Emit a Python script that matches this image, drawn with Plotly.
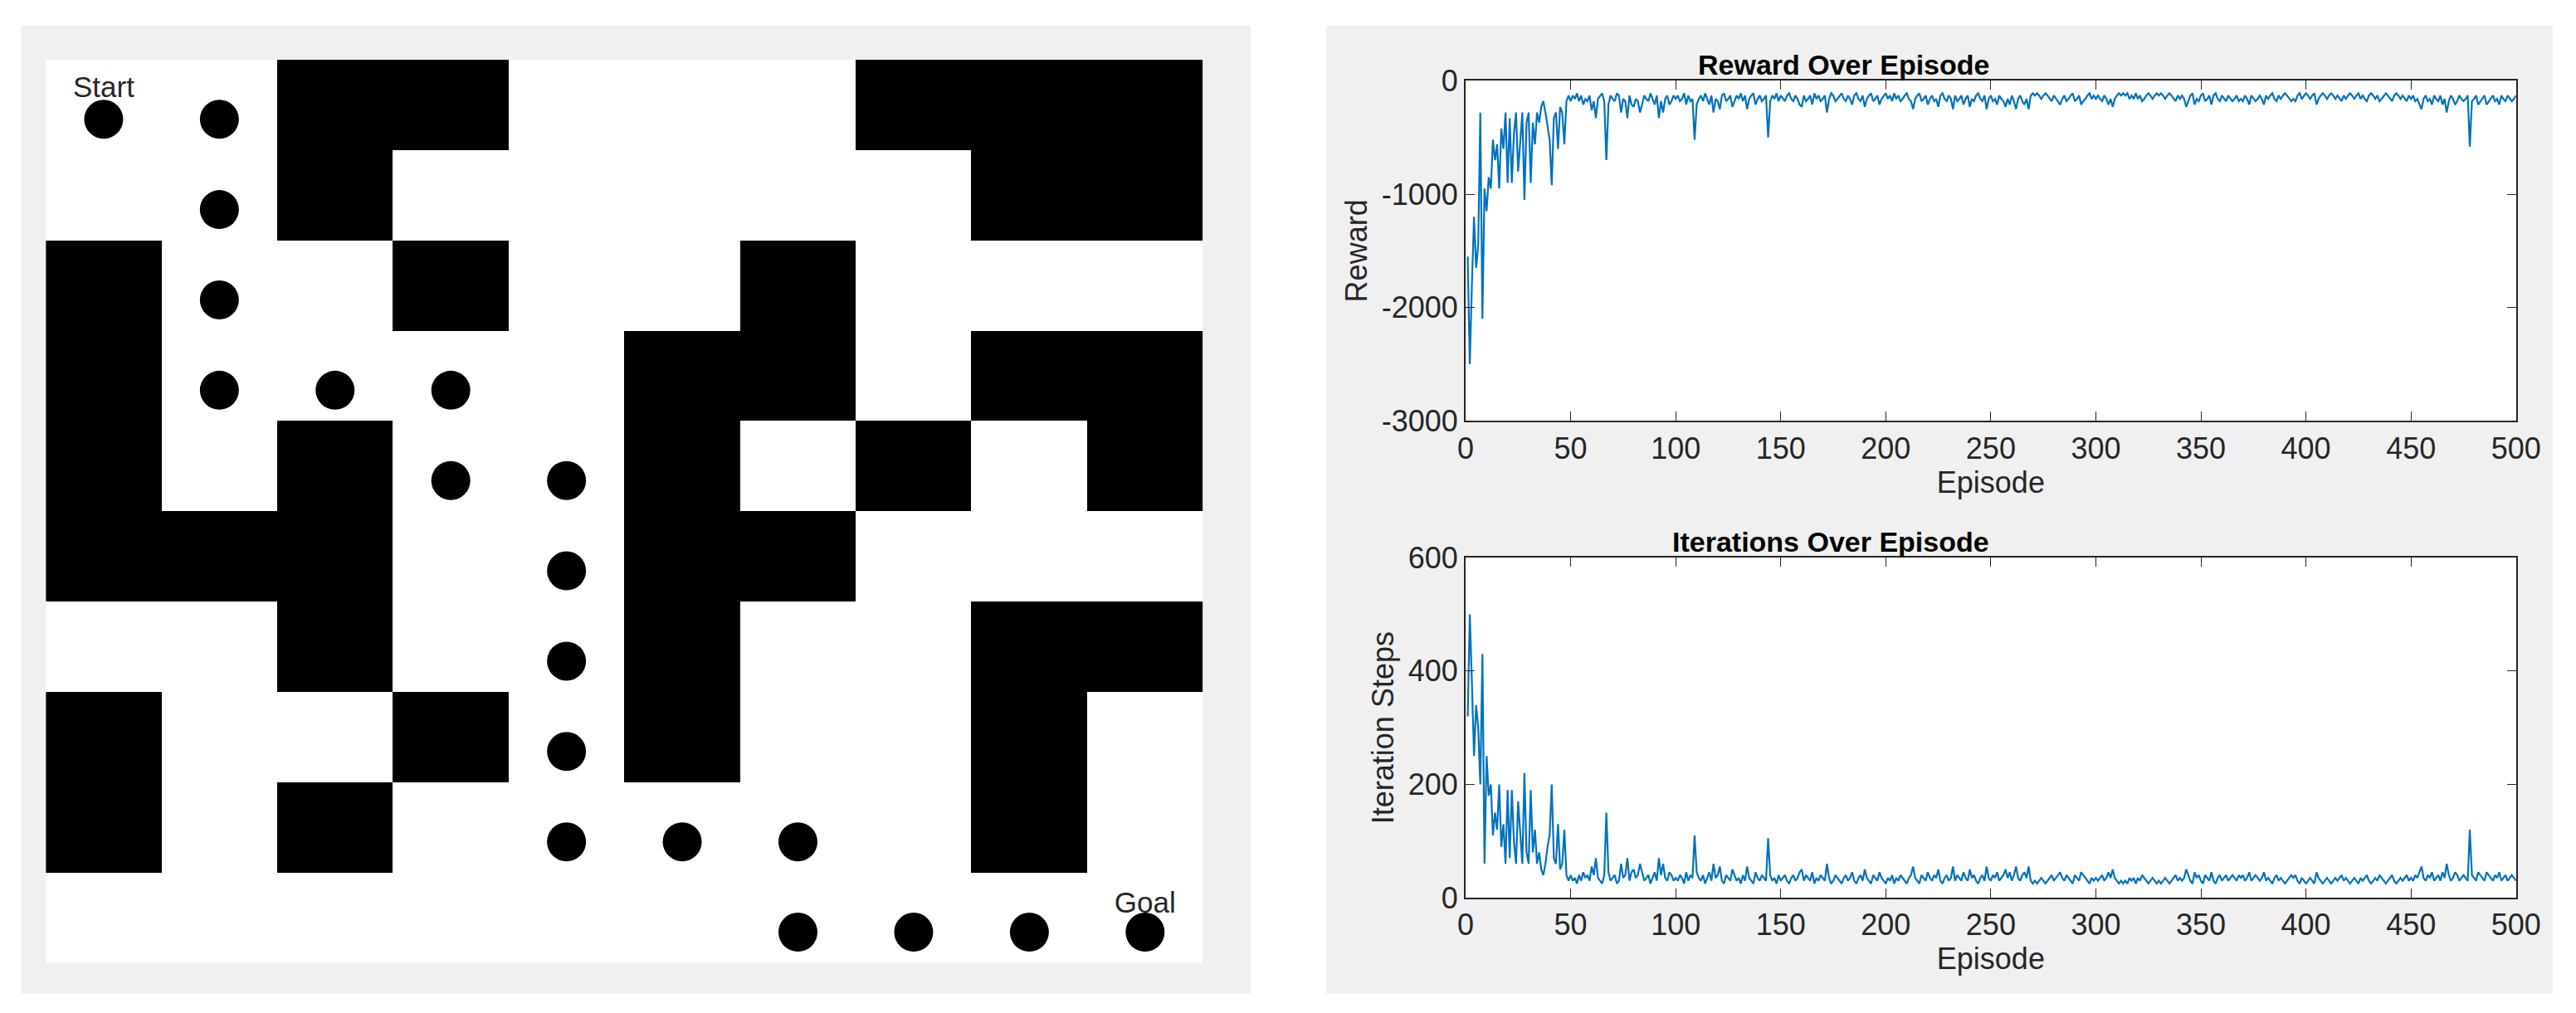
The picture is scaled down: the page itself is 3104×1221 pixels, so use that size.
import plotly.graph_objects as go

# ---------------- data ----------------
grid_rows = [  # 1 = wall (black), row 0 at top
    [0,0,1,1,0,0,0,1,1,1],
    [0,0,1,0,0,0,0,0,1,1],
    [1,0,0,1,0,0,1,0,0,0],
    [1,0,0,0,0,1,1,0,1,1],
    [1,0,1,0,0,1,0,1,0,1],
    [1,1,1,0,0,1,1,0,0,0],
    [0,0,1,0,0,1,0,0,1,1],
    [1,0,0,1,0,1,0,0,1,0],
    [1,0,1,0,0,0,0,0,1,0],
    [0,0,0,0,0,0,0,0,0,0],
]
path_cols = [0,1,1,1,1,2,3,3,4,4,4,4,4,5,6,6,7,8,9]
path_rows = [0,0,1,2,3,3,3,4,4,5,6,7,8,8,8,9,9,9,9]
labels = ["Start", "Goal"]

iterations = [
320,500,380,250,340,300,200,430,60,250,180,200,110,150,120,200,90,130,60,190,70,190,100,60,170,110,60,220,80,60,190,80,120,60,80,50,40,60,90,110,200,70,60,130,50,60,120,40,30,40,
30,35,25,40,30,45,35,40,30,55,40,70,35,30,25,40,150,45,30,35,40,25,30,60,35,40,70,30,45,50,35,40,60,45,30,35,40,25,35,45,30,70,40,60,35,30,45,40,30,35,
30,40,35,25,45,30,40,35,110,45,35,30,40,25,35,45,30,60,35,40,55,30,25,40,35,30,50,40,30,35,25,40,30,55,35,30,25,45,35,30,40,35,30,105,40,30,35,25,40,30,
35,40,30,25,35,40,30,35,45,50,30,40,35,30,45,25,35,30,40,35,30,60,35,25,30,40,35,30,25,35,40,30,35,45,30,25,35,40,30,50,35,30,25,40,35,30,45,35,30,25,
35,30,40,25,35,30,40,35,30,25,35,40,55,35,30,25,40,35,30,45,35,30,40,35,50,30,25,35,40,30,35,55,30,40,35,30,45,35,30,50,35,40,30,25,35,40,30,55,35,30,
40,35,45,30,35,40,50,35,45,30,40,55,35,30,40,45,35,55,30,25,30,25,30,35,30,25,30,35,40,30,35,40,45,35,30,40,35,30,25,40,35,30,45,40,35,30,25,35,30,35,
30,35,40,30,35,45,35,50,35,30,25,30,25,30,25,35,30,35,25,35,30,40,35,30,25,30,35,30,25,30,25,30,35,30,25,30,35,40,30,35,30,35,50,40,30,25,45,35,40,30,
25,40,35,30,45,30,25,35,40,30,35,40,30,35,40,35,30,40,35,40,30,35,45,30,35,40,35,30,35,45,30,35,30,25,35,40,30,35,30,25,30,35,40,35,40,30,25,35,30,25,
30,35,30,25,45,35,30,25,30,35,30,25,30,35,30,35,40,30,35,30,25,30,35,30,25,35,30,35,40,30,25,30,35,30,40,35,30,25,30,35,40,30,25,30,35,30,35,40,30,35,
30,40,35,45,55,35,30,40,35,45,30,35,40,30,45,35,60,40,30,35,45,40,30,35,40,35,30,120,40,35,30,45,40,35,30,45,40,35,30,40,35,45,30,35,40,30,35,40,35,30,
]

rewards = [
-1550,-2500,-1800,-1200,-1650,-1450,-280,-2100,-950,-1150,-850,-950,-520,-700,-560,-950,-420,-600,-280,-900,-330,-900,-470,-280,-800,-520,-280,-1050,-370,-280,-900,-370,-560,-280,-370,-230,-180,-280,-420,-520,-920,-330,-280,-600,-230,-280,-560,-180,-130,-180,
-130,-160,-110,-180,-130,-210,-160,-180,-130,-260,-180,-330,-160,-130,-110,-180,-700,-210,-130,-160,-180,-110,-130,-280,-160,-180,-330,-130,-210,-230,-160,-180,-280,-210,-130,-160,-180,-110,-160,-210,-130,-330,-180,-280,-160,-130,-210,-180,-130,-160,
-130,-180,-160,-110,-210,-130,-180,-160,-520,-210,-160,-130,-180,-110,-160,-210,-130,-280,-160,-180,-250,-130,-110,-180,-160,-130,-230,-180,-130,-160,-110,-180,-130,-250,-160,-130,-110,-210,-160,-130,-180,-160,-130,-500,-180,-130,-160,-110,-180,-130,
-160,-180,-130,-110,-160,-180,-130,-160,-210,-230,-130,-180,-160,-130,-210,-110,-160,-130,-180,-160,-130,-280,-160,-110,-130,-180,-160,-130,-110,-160,-180,-130,-160,-210,-130,-110,-160,-180,-130,-230,-160,-130,-110,-180,-160,-130,-210,-160,-130,-110,
-160,-130,-180,-110,-160,-130,-180,-160,-130,-110,-160,-180,-250,-160,-130,-110,-180,-160,-130,-210,-160,-130,-180,-160,-230,-130,-110,-160,-180,-130,-160,-250,-130,-180,-160,-130,-210,-160,-130,-230,-160,-180,-130,-110,-160,-180,-130,-250,-160,-130,
-180,-160,-210,-130,-160,-180,-230,-160,-210,-130,-180,-250,-160,-130,-180,-210,-160,-250,-130,-110,-130,-110,-130,-160,-130,-110,-130,-160,-180,-130,-160,-180,-210,-160,-130,-180,-160,-130,-110,-180,-160,-130,-210,-180,-160,-130,-110,-160,-130,-160,
-130,-160,-180,-130,-160,-210,-160,-230,-160,-130,-110,-130,-110,-130,-110,-160,-130,-160,-110,-160,-130,-180,-160,-130,-110,-130,-160,-130,-110,-130,-110,-130,-160,-130,-110,-130,-160,-180,-130,-160,-130,-160,-230,-180,-130,-110,-210,-160,-180,-130,
-110,-180,-160,-130,-210,-130,-110,-160,-180,-130,-160,-180,-130,-160,-180,-160,-130,-180,-160,-180,-130,-160,-210,-130,-160,-180,-160,-130,-160,-210,-130,-160,-130,-110,-160,-180,-130,-160,-130,-110,-130,-160,-180,-160,-180,-130,-110,-160,-130,-110,
-130,-160,-130,-110,-210,-160,-130,-110,-130,-160,-130,-110,-130,-160,-130,-160,-180,-130,-160,-130,-110,-130,-160,-130,-110,-160,-130,-160,-180,-130,-110,-130,-160,-130,-180,-160,-130,-110,-130,-160,-180,-130,-110,-130,-160,-130,-160,-180,-130,-160,
-130,-180,-160,-210,-250,-160,-130,-180,-160,-210,-130,-160,-180,-130,-210,-160,-280,-180,-130,-160,-210,-180,-130,-160,-180,-160,-130,-580,-180,-160,-130,-210,-180,-160,-130,-210,-180,-160,-130,-180,-160,-210,-130,-160,-180,-130,-160,-180,-160,-130,
]
episodes = list(range(1, len(iterations) + 1))
ep_ticks = [0, 50, 100, 150, 200, 250, 300, 350, 400, 450, 500]
reward_ticks = [-3000, -2000, -1000, 0]
iter_ticks = [0, 200, 400, 600]

# ---------------- figure ----------------
FONT = "Liberation Sans, Arial, sans-serif"
W, H = 3104, 1221
fig = go.Figure()

fig.add_trace(go.Heatmap(
    z=grid_rows, x=list(range(10)), y=list(range(10)),
    colorscale=[[0, "white"], [1, "black"]], showscale=False, zmin=0, zmax=1,
    xaxis="x", yaxis="y", hoverinfo="skip"))
fig.add_trace(go.Scatter(
    x=path_cols, y=[r + 0.16 for r in path_rows], mode="markers",
    marker=dict(color="black", size=47), xaxis="x", yaxis="y", showlegend=False))
fig.add_trace(go.Scatter(
    x=[path_cols[0], path_cols[-1]], y=[path_rows[0] - 0.17, path_rows[-1] - 0.14],
    mode="text", text=labels, textfont=dict(family=FONT, size=35, color="#262626"),
    xaxis="x", yaxis="y", showlegend=False))

line = dict(color="#0072BD", width=2.2)
fig.add_trace(go.Scatter(x=episodes, y=rewards, mode="lines", line=line,
                         xaxis="x2", yaxis="y2", showlegend=False))
fig.add_trace(go.Scatter(x=episodes, y=iterations, mode="lines", line=line,
                         xaxis="x3", yaxis="y3", showlegend=False))

tick = dict(family=FONT, size=36, color="#262626")
ax_common = dict(showgrid=False, zeroline=False, showline=True, mirror="ticks",
                 linecolor="#262626", linewidth=2, ticks="inside", ticklen=11,
                 tickcolor="#262626", tickfont=tick)

AX_X = [0.5705, 0.9836]
TOP_Y = [0.5938, 0.9412]
BOT_Y = [0.1067, 0.4541]

def rect(x0, x1, y0, y1, color):
    return dict(type="rect", xref="paper", yref="paper", x0=x0, x1=x1, y0=y0, y1=y1,
                fillcolor=color, line=dict(width=0), layer="below")

fig.update_layout(
    width=W, height=H, margin=dict(l=0, r=0, t=0, b=0),
    paper_bgcolor="white", plot_bgcolor="white", showlegend=False,
    xaxis=dict(domain=[0.01214, 0.4672], range=[-0.5, 9.5], visible=False, anchor="y"),
    yaxis=dict(domain=[0.0402, 0.9628], range=[9.5, -0.5], visible=False, anchor="x"),
    xaxis2=dict(domain=AX_X, range=[0, 500], tickvals=ep_ticks, anchor="y2",
                title=dict(text="Episode", font=tick, standoff=0), **ax_common),
    yaxis2=dict(domain=TOP_Y, range=[-3000, 0], tickvals=reward_ticks,
                ticktext=[str(v) for v in reward_ticks],
                anchor="x2", title=dict(text="Reward", font=tick, standoff=6), **ax_common),
    xaxis3=dict(domain=AX_X, range=[0, 500], tickvals=ep_ticks, anchor="y3",
                title=dict(text="Episode", font=tick, standoff=0), **ax_common),
    yaxis3=dict(domain=BOT_Y, range=[0, 600], tickvals=iter_ticks,
                anchor="x3", title=dict(text="Iteration Steps", font=tick, standoff=6), **ax_common),
    shapes=[
        rect(0.00245, 0.486, 0.0086, 0.9977, "#f0f0f0"),
        rect(0.5156, 0.998, 0.0086, 0.9977, "#f0f0f0"),
        rect(AX_X[0], AX_X[1], TOP_Y[0], TOP_Y[1], "white"),
        rect(AX_X[0], AX_X[1], BOT_Y[0], BOT_Y[1], "white"),
    ],
    annotations=[
        dict(text="<b>Reward Over Episode</b>", xref="paper", yref="paper", x=sum(AX_X) / 2, y=TOP_Y[1],
             yanchor="bottom", showarrow=False, font=dict(family=FONT, size=34, color="black"), yshift=-2),
        dict(text="<b>Iterations Over Episode</b>", xref="paper", yref="paper", x=sum(AX_X) / 2, y=BOT_Y[1],
             yanchor="bottom", showarrow=False, font=dict(family=FONT, size=34, color="black"), yshift=-2),
    ],
)
fig.write_html("out.html")
